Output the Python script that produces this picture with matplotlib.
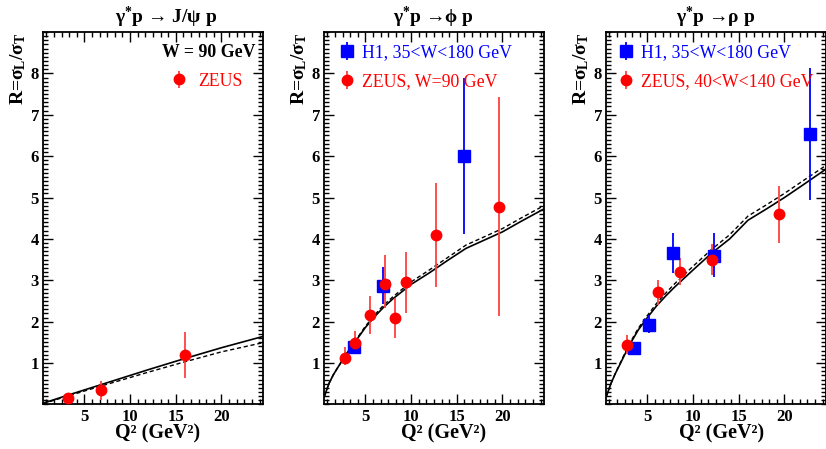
"""
R = sigma_L / sigma_T for exclusive vector meson production
"""

import matplotlib
matplotlib.use('Agg')
import matplotlib.pyplot as plt
from matplotlib.ticker import MultipleLocator

plt.rcParams['font.family'] = ['Liberation Serif', 'DejaVu Serif']
plt.rcParams['font.weight'] = 'bold'
plt.rcParams['axes.labelweight'] = 'bold'
plt.rcParams['mathtext.fontset'] = 'custom'
plt.rcParams['mathtext.rm'] = 'Liberation Serif:bold'
plt.rcParams['mathtext.it'] = 'Liberation Serif:bold'
plt.rcParams['mathtext.bf'] = 'Liberation Serif:bold'

# J/psi, ZEUS W = 90 GeV
jpsi_zeus_q2 = [3.2, 6.8, 16.0]
jpsi_zeus_r = [0.15, 0.35, 1.19]
jpsi_zeus_up = [0.13, 0.22, 0.55]
jpsi_zeus_dn = [0.15, 0.25, 0.55]

# phi
phi_h1_q2 = [3.7, 6.9, 15.8]
phi_h1_r = [1.39, 2.87, 6.01]
phi_h1_up = [0.10, 0.46, 1.89]
phi_h1_dn = [0.10, 0.44, 1.88]

phi_zeus_q2 = [2.8, 3.9, 5.5, 7.1, 8.2, 9.4, 12.7, 19.6]
phi_zeus_r = [1.13, 1.49, 2.16, 2.90, 2.09, 2.95, 4.09, 4.78]
phi_zeus_up = [0.26, 0.28, 0.46, 0.71, 0.47, 0.74, 1.27, 2.65]
phi_zeus_dn = [0.18, 0.27, 0.47, 0.57, 0.49, 0.74, 1.26, 2.64]

# rho
rho_h1_q2 = [3.5, 5.15, 7.8, 12.3, 22.8]
rho_h1_r = [1.37, 1.93, 3.65, 3.58, 6.53]
rho_h1_up = [0.10, 0.23, 0.50, 0.57, 1.60]
rho_h1_dn = [0.10, 0.21, 0.47, 0.50, 1.58]

rho_zeus_q2 = [2.8, 6.2, 8.55, 12.1, 19.4]
rho_zeus_r = [1.43, 2.71, 3.21, 3.50, 4.60]
rho_zeus_up = [0.25, 0.29, 0.32, 0.37, 0.68]
rho_zeus_dn = [0.22, 0.31, 0.33, 0.37, 0.69]

# model curves (solid / dashed)
jpsi_curve_q2 = [0.5, 3, 6, 10, 12, 16, 20, 24.5]
jpsi_solid = [0.03, 0.21, 0.42, 0.70, 0.84, 1.11, 1.37, 1.64]
jpsi_dashed = [0.02, 0.19, 0.39, 0.65, 0.78, 1.03, 1.27, 1.49]

curve_q2 = [0.5, 1, 1.5, 2, 3, 4, 5, 6, 7, 8, 10, 12, 14, 16, 18, 20, 22, 24.5]
phi_solid = [0.19, 0.50, 0.72, 0.90, 1.24, 1.55, 1.86, 2.12, 2.35, 2.55,
             2.90, 3.18, 3.48, 3.77, 3.97, 4.17, 4.42, 4.72]
phi_dashed = [0.19, 0.50, 0.72, 0.90, 1.25, 1.57, 1.89, 2.16, 2.40, 2.60,
              2.96, 3.25, 3.55, 3.85, 4.05, 4.25, 4.50, 4.80]
rho_solid = [0.19, 0.50, 0.75, 0.97, 1.42, 1.80, 2.10, 2.38, 2.62, 2.84,
             3.25, 3.65, 4.00, 4.45, 4.72, 5.00, 5.30, 5.68]
rho_dashed = [0.19, 0.50, 0.76, 0.99, 1.45, 1.84, 2.15, 2.44, 2.69, 2.92,
              3.34, 3.74, 4.10, 4.55, 4.82, 5.10, 5.40, 5.77]

RED = '#ff0000'
RED_BAR = '#ff4040'
BLUE = '#0000ff'


def setup_axes(ax, title, title_x, xlabel_x):
    ax.set_xlim(0.5, 24.5)
    ax.set_ylim(0, 9)
    ax.set_xticks([5, 10, 15, 20])
    ax.set_yticks([1, 2, 3, 4, 5, 6, 7, 8])
    ax.xaxis.set_minor_locator(MultipleLocator(5 / 6))
    ax.yaxis.set_minor_locator(MultipleLocator(0.1))
    ax.tick_params(which='both', direction='in', top=True, right=True, width=1)
    ax.tick_params(which='major', length=7, labelsize=12, pad=3)
    ax.tick_params(which='minor', length=3.5)
    for sp in ax.spines.values():
        sp.set_linewidth(1.3)

    ax.set_xlabel('Q² (GeV²)', fontsize=14.5)
    ax.xaxis.set_label_coords(xlabel_x, -0.052)
    ax.set_ylabel('R=σ$_{L}$/σ$_{T}$', fontsize=14, loc='top')
    ax.yaxis.set_label_coords(-0.07, 1.0)
    ax.text(title_x, 1.04, title, transform=ax.transAxes, ha='center',
            va='center', fontsize=14)


def draw_points(ax, q2, r, dn, up, color, bar_color, marker, size):
    return ax.errorbar(q2, r, yerr=[dn, up], fmt=marker, color=color,
                       ecolor=bar_color, markersize=size, elinewidth=1.3,
                       capsize=0, zorder=5)


fig = plt.figure(figsize=(8.26, 4.49), dpi=100)
bottom, height, width = 0.0993, 0.8294, 0.2655
ax1 = fig.add_axes([0.0524, bottom, width, height])
ax2 = fig.add_axes([0.3926, bottom, width, height])
ax3 = fig.add_axes([0.7340, bottom, width, height])

legend_font = {'weight': 'normal', 'size': 12.8}

# J/psi panel
ax1.plot(jpsi_curve_q2, jpsi_solid, color='black', lw=1.2)
ax1.plot(jpsi_curve_q2, jpsi_dashed, color='black', lw=1.0, ls=(0, (3, 2)))
z1 = draw_points(ax1, jpsi_zeus_q2, jpsi_zeus_r, jpsi_zeus_dn, jpsi_zeus_up,
                 RED, RED_BAR, 'o', 7.5)
setup_axes(ax1, 'γ$^{*}$p → J/ψ p', 0.558, 0.52)
ax1.text(0.969, 0.946, 'W = 90 GeV', transform=ax1.transAxes, ha='right',
         va='center', fontsize=12.8)
ax1.legend([z1], ['ZEUS'], loc='center right', bbox_to_anchor=(0.91, 0.868),
           frameon=False, borderpad=0, borderaxespad=0, handlelength=1.0,
           handletextpad=0.6, labelcolor=[RED], prop=legend_font)

# phi panel
ax2.plot(curve_q2, phi_solid, color='black', lw=1.2)
ax2.plot(curve_q2, phi_dashed, color='black', lw=1.0, ls=(0, (3, 2)))
h2 = draw_points(ax2, phi_h1_q2, phi_h1_r, phi_h1_dn, phi_h1_up,
                 BLUE, BLUE, 's', 8)
z2 = draw_points(ax2, phi_zeus_q2, phi_zeus_r, phi_zeus_dn, phi_zeus_up,
                 RED, RED_BAR, 'o', 7.5)
setup_axes(ax2, 'γ$^{*}$p →ϕ p', 0.5, 0.544)
ax2.legend([h2, z2], ['H1, 35<W<180 GeV', 'ZEUS, W=90 GeV'], loc='upper left',
           bbox_to_anchor=(0.062, 0.967), frameon=False, borderpad=0,
           borderaxespad=0, handlelength=1.0, handletextpad=0.35,
           labelspacing=0.68, labelcolor=[BLUE, RED], prop=legend_font)

# rho panel
ax3.plot(curve_q2, rho_solid, color='black', lw=1.2)
ax3.plot(curve_q2, rho_dashed, color='black', lw=1.0, ls=(0, (3, 2)))
h3 = draw_points(ax3, rho_h1_q2, rho_h1_r, rho_h1_dn, rho_h1_up,
                 BLUE, BLUE, 's', 8)
z3 = draw_points(ax3, rho_zeus_q2, rho_zeus_r, rho_zeus_dn, rho_zeus_up,
                 RED, RED_BAR, 'o', 7.5)
setup_axes(ax3, 'γ$^{*}$p →ρ p', 0.5, 0.525)
ax3.legend([h3, z3], ['H1, 35<W<180 GeV', 'ZEUS, 40<W<140 GeV'],
           loc='upper left', bbox_to_anchor=(0.05, 0.967), frameon=False,
           borderpad=0, borderaxespad=0, handlelength=1.0,
           handletextpad=0.35, labelspacing=0.68, labelcolor=[BLUE, RED],
           prop=legend_font)

plt.savefig('out.png', dpi=100)
